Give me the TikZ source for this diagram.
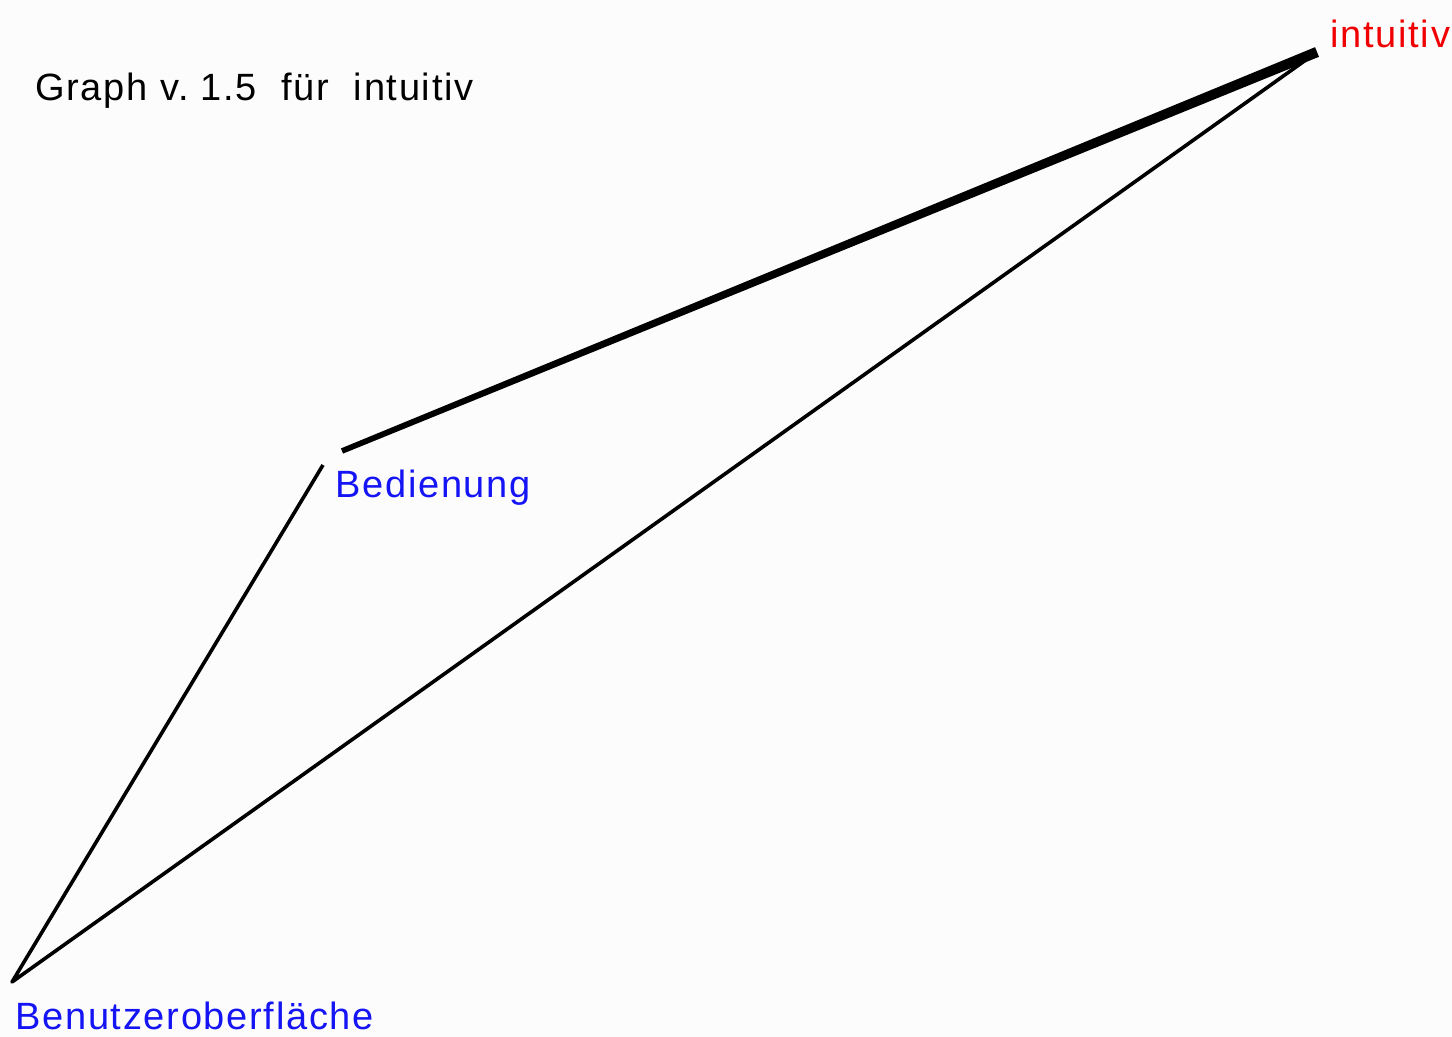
\documentclass[tikz,border=0pt]{standalone}
\usepackage{fontspec}
\setmainfont[LetterSpace=4.5]{Liberation Sans}
\usetikzlibrary{calc}

\definecolor{hgrund}{RGB}{252,252,252}
\definecolor{wortblau}{RGB}{20,20,245}
\definecolor{wortrot}{RGB}{240,0,0}

\begin{document}
\begin{tikzpicture}[
      x=0.5pt, y=-0.5pt,
      inner sep=0pt,
      wort/.style={anchor=base west, font=\fontsize{19}{22}\selectfont},
      kante/.style={line width=1.8pt, line join=round}
    ]
    \fill[hgrund] (0,0) rectangle (1452,1037);
    % Ecken des Graphen
    \coordinate (intTip) at (1317,52);
    \coordinate (intLow) at (1310,57);
    \coordinate (bedTop) at (342,451);
    \coordinate (bedLow) at (323,465);
    \coordinate (benTip) at (12,982);
    % Beschriftungen
    \node (titel) [wort] at (35,101) {Graph v.\ 1.5\ \ für\ \ intuitiv};
    \node (intuitiv) [wort,text=wortrot] at (1330,48) {intuitiv};
    \node (bedienung) [wort,text=wortblau] at (335,498) {Bedienung};
    \node (benutzer) [wort,text=wortblau] at (15,1029) {Benutzeroberfläche};
    % Kanten
    \fill ($(bedTop)!1.4pt!90:(intTip)$) -- ($(bedTop)!1.4pt!-90:(intTip)$)
      -- ($(intTip)!2.6pt!90:(bedTop)$) -- ($(intTip)!2.6pt!-90:(bedTop)$) -- cycle;
    \draw[kante] (bedLow) -- (benTip) -- (intLow);
  \end{tikzpicture}
\end{document}
